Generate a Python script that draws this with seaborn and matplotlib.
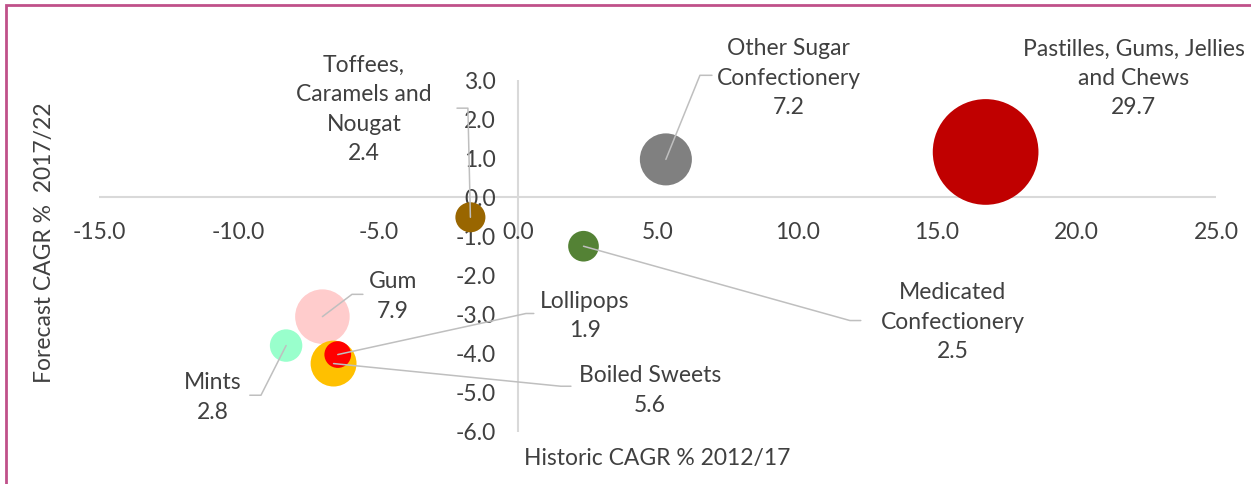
"""Bubble chart: historic vs forecast CAGR of sugar confectionery categories."""

import matplotlib
matplotlib.use("Agg")

import matplotlib.pyplot as plt
import numpy as np
import pandas as pd
import seaborn as sns
from matplotlib.patches import Rectangle

# --- data ---
categories = [
    "Pastilles, Gums, Jellies\nand Chews",
    "Other Sugar\nConfectionery",
    "Toffees,\nCaramels and\nNougat",
    "Medicated\nConfectionery",
    "Gum",
    "Mints",
    "Boiled Sweets",
    "Lollipops",
]
historic_cagr = [16.75, 5.3, -1.7, 2.35, -7.0, -8.3, -6.6, -6.45]
forecast_cagr = [1.16, 0.97, -0.51, -1.25, -3.05, -3.79, -4.25, -4.02]
market_value = [29.7, 7.2, 2.4, 2.5, 7.9, 2.8, 5.6, 1.9]

x_ticks = [-15, -10, -5, 0, 5, 10, 15, 20, 25]
y_ticks = [3, 2, 1, 0, -1, -2, -3, -4, -5, -6]

# --- styling / layout ---
colors = ["#C00000", "#808080", "#996600", "#548235",
          "#FFCCCC", "#99FFCC", "#FFC000", "#FF0000"]
TEXT = "#404040"
GRID = "#D9D9D9"
LEADER = "#BFBFBF"
FS = 16.5

# label centre (data coords) and leader elbow (A -> B, None = no leader)
label_pos = [(22.06, 3.04), (9.70, 3.04), (-5.51, 2.24), (15.57, -3.20),
             (-4.48, -2.53), (-10.92, -5.12), (4.73, -4.94), (2.40, -3.04)]
leaders = [None,
           ((6.52, 3.12), (6.95, 3.12)),
           ((-1.79, 2.28), (-2.18, 2.28)),
           ((11.89, -3.15), (12.28, -3.15)),
           ((-5.94, -2.48), (-5.55, -2.48)),
           ((-9.20, -5.06), (-9.60, -5.06)),
           ((1.54, -4.83), (1.90, -4.83)),
           ((0.29, -2.97), (0.57, -2.97))]

sns.set_theme(style="white")
plt.rcParams["font.family"] = ["Lato", "DejaVu Sans"]

df = pd.DataFrame({
    "category": categories,
    "historic": historic_cagr,
    "forecast": forecast_cagr,
    "value": market_value,
})

fig = plt.figure(figsize=(12.51, 4.84), dpi=100)
ax = fig.add_axes([99 / 1251, 52 / 484, 1117 / 1251, 352 / 484])

ax.axhline(0, color=GRID, lw=1.5, zorder=0)
ax.axvline(0, color=GRID, lw=1.5, zorder=0)

# leader lines under the bubbles
for (hx, fy), ld in zip(zip(historic_cagr, forecast_cagr), leaders):
    if ld is None:
        continue
    (ax_, ay), (bx, by) = ld
    ax.plot([hx, ax_, bx], [fy, ay, by], color=LEADER, lw=1.1,
            zorder=3, clip_on=False)

s_per_unit = 195.0
sns.scatterplot(
    data=df, x="historic", y="forecast",
    hue="category", palette=colors,
    size="value", sizes=(s_per_unit * min(market_value), s_per_unit * max(market_value)),
    legend=False, edgecolor="none", linewidth=0, alpha=1, ax=ax, zorder=2,
)

for cat, val, (lx, ly) in zip(categories, market_value, label_pos):
    ax.text(lx, ly, f"{cat}\n{val:.1f}", ha="center", va="center",
            fontsize=FS, color=TEXT, linespacing=1.5, clip_on=False)

ax.set_xlim(-15, 25)
ax.set_ylim(-6, 3)
ax.set_xticks(x_ticks)
ax.set_yticks(y_ticks)
ax.set_xticklabels([f"{t:.1f}" for t in x_ticks])
ax.set_yticklabels([f"{t:.1f}" for t in y_ticks])

for side in ["top", "right", "left", "bottom"]:
    ax.spines[side].set_visible(False)
ax.spines["left"].set_position(("data", 0))
ax.spines["bottom"].set_position(("data", 0))
ax.tick_params(axis="x", length=0, pad=18, labelsize=FS, labelcolor=TEXT)
ax.tick_params(axis="y", length=0, pad=16, labelsize=FS, labelcolor=TEXT)
ax.set_xlabel("")
ax.set_ylabel("")
ax.grid(False)

fig.text(657 / 1251, 1 - 458 / 484, "Historic CAGR % 2012/17", ha="center",
         va="center", fontsize=FS, color=TEXT)
fig.text(45 / 1251, 1 - 243 / 484, "Forecast CAGR %  2017/22", ha="center",
         va="center", rotation=90, fontsize=FS, color=TEXT)

# outer frame (only the top and left edges are inside the picture)
fig.patches.append(Rectangle((5.5 / 1251, -0.1), 2, 1.1 - 5.0 / 484,
                             transform=fig.transFigure, fill=False,
                             edgecolor="#C0508A", lw=2))

fig.savefig("out.png", dpi=100)
plt.close(fig)
